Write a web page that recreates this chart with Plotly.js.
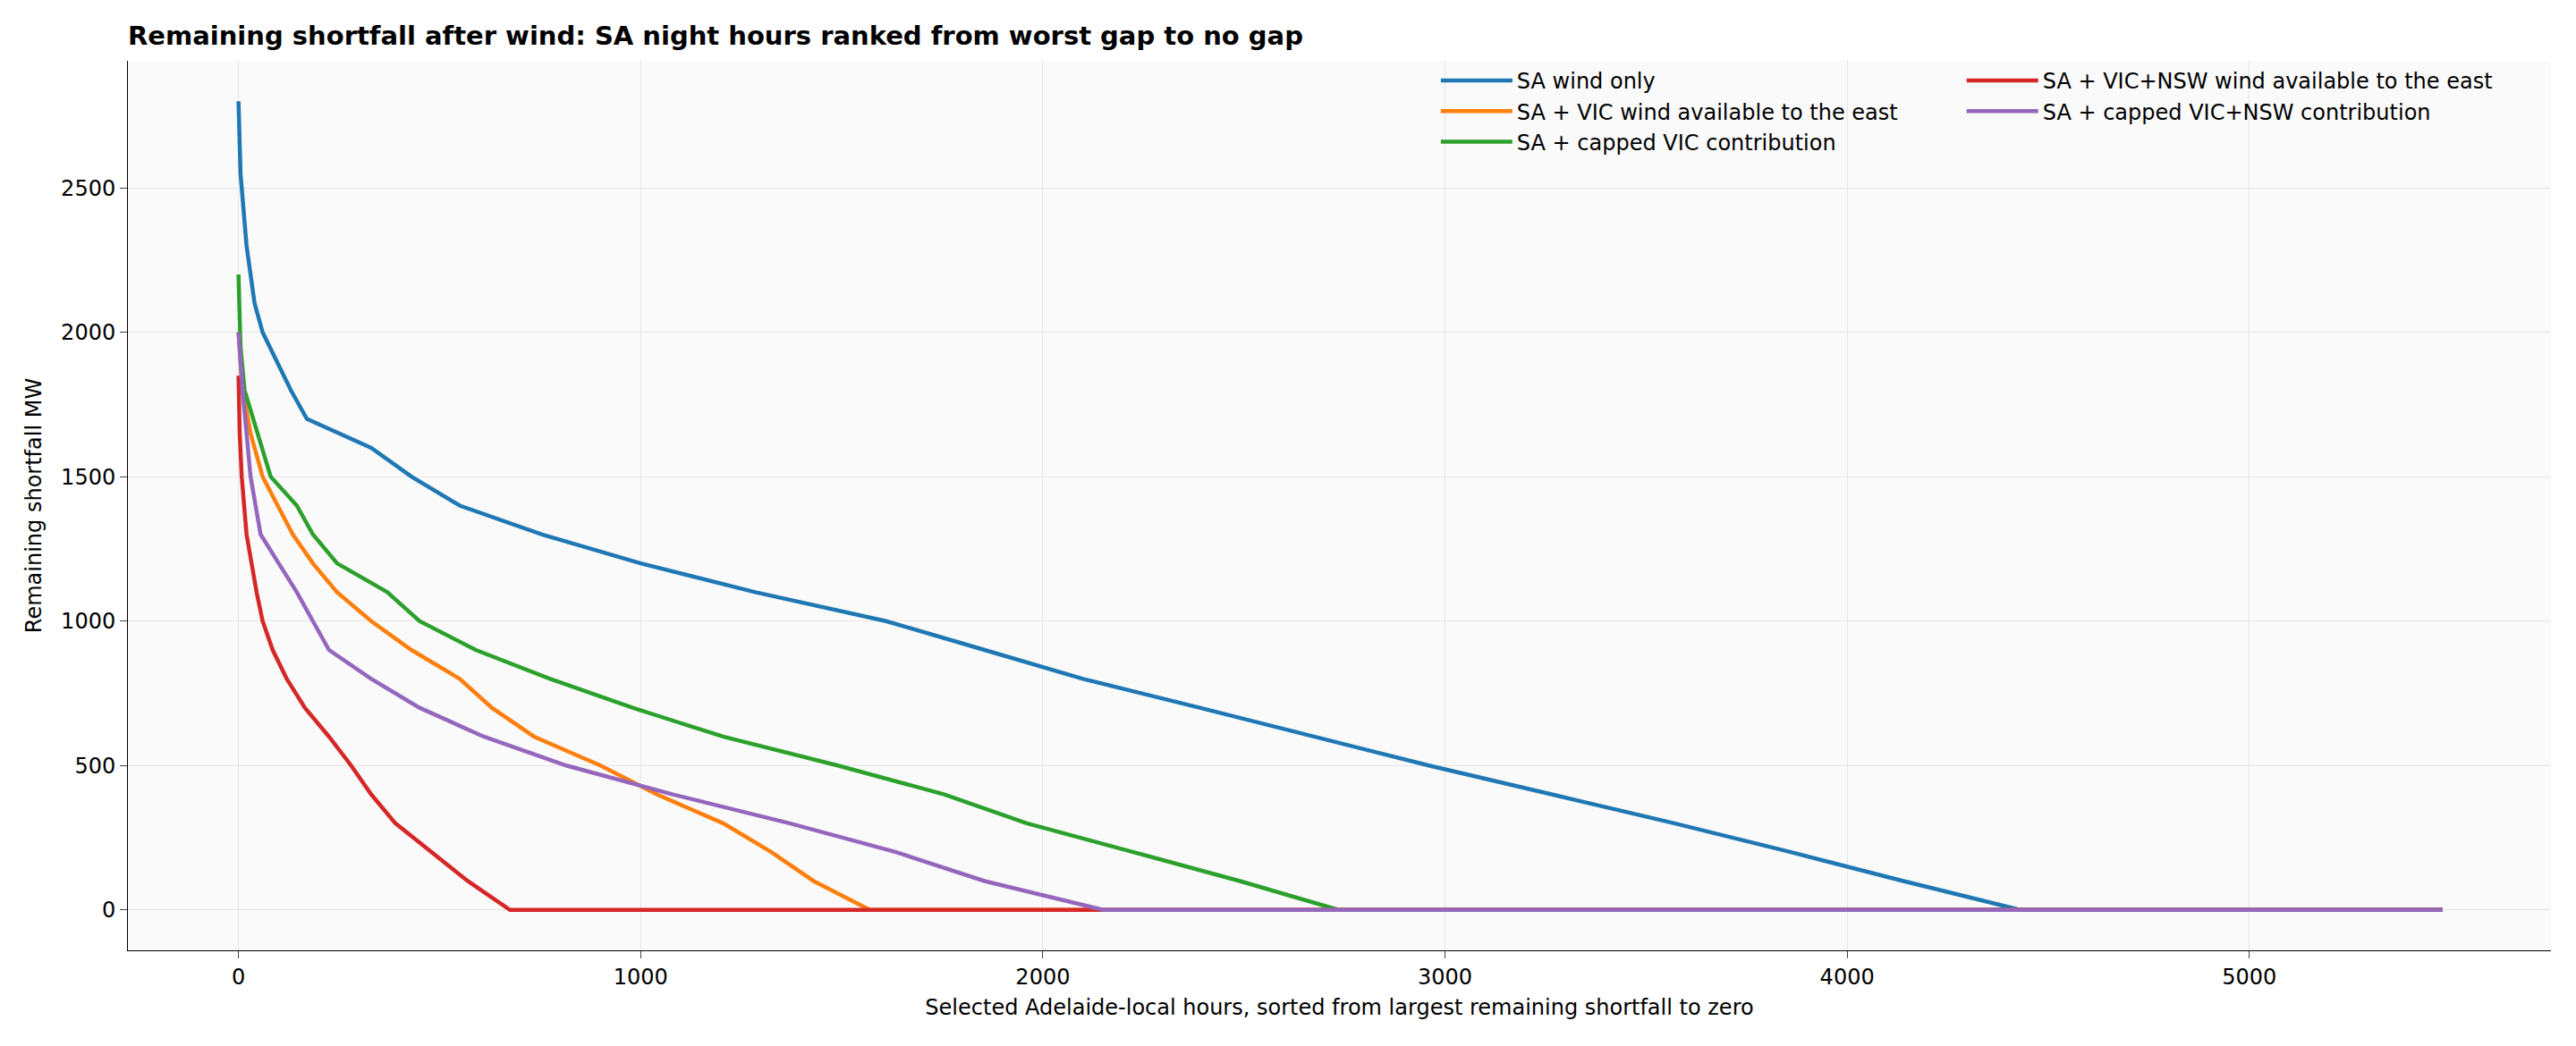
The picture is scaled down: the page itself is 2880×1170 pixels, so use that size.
<!DOCTYPE html>
<html><head><meta charset="utf-8">
<script src="https://cdn.plot.ly/plotly-3.0.1.min.js"></script>
<style>body{margin:0}</style></head>
<body><div id="chart" style="width:2880px;height:1170px"></div>
<script>
// curves: hour rank vs remaining shortfall MW
var saX = [0, 5, 20, 40, 60, 130, 170, 330, 430, 550, 755, 1000, 1285, 1610, 1855, 2100, 2390, 2670, 2960, 3265, 3570, 3860, 4140, 4430, 5480];
var saY = [2800, 2550, 2300, 2100, 2000, 1800, 1700, 1600, 1500, 1400, 1300, 1200, 1100, 1000, 900, 800, 700, 600, 500, 400, 300, 200, 100, 0, 0];
var vicX = [0, 10, 30, 60, 135, 185, 245, 330, 430, 550, 630, 735, 900, 1040, 1205, 1325, 1430, 1570, 5480];
var vicY = [2000, 1800, 1650, 1500, 1300, 1200, 1100, 1000, 900, 800, 700, 600, 500, 400, 300, 200, 100, 0, 0];
var vicCapX = [0, 5, 15, 60, 80, 145, 185, 245, 370, 450, 590, 775, 980, 1205, 1490, 1755, 1960, 2225, 2490, 2735, 5480];
var vicCapY = [2200, 1950, 1800, 1600, 1500, 1400, 1300, 1200, 1100, 1000, 900, 800, 700, 600, 500, 400, 300, 200, 100, 0, 0];
var nswX = [0, 3, 8, 20, 45, 60, 85, 120, 165, 225, 280, 330, 390, 480, 570, 675, 5480];
var nswY = [1850, 1650, 1500, 1300, 1100, 1000, 900, 800, 700, 600, 500, 400, 300, 200, 100, 0, 0];
var nswCapX = [0, 10, 30, 55, 100, 145, 185, 225, 330, 450, 610, 815, 1080, 1370, 1635, 1855, 2150, 5480];
var nswCapY = [2000, 1800, 1500, 1300, 1200, 1100, 1000, 900, 800, 700, 600, 500, 400, 300, 200, 100, 0, 0];

function line(x, y, name, color, legend) {
  return {x: x, y: y, name: name, type: 'scatter', mode: 'lines',
          line: {color: color, width: 4.5}, legend: legend};
}

var data = [
  line(saX, saY, 'SA wind only', '#1f77b4', 'legend'),
  line(vicX, vicY, 'SA + VIC wind available to the east', '#ff7f0e', 'legend'),
  line(vicCapX, vicCapY, 'SA + capped VIC contribution', '#2ca02c', 'legend'),
  line(nswX, nswY, 'SA + VIC+NSW wind available to the east', '#d62728', 'legend2'),
  line(nswCapX, nswCapY, 'SA + capped VIC+NSW contribution', '#9467bd', 'legend2')
];

var legendStyle = {y: 1, yanchor: 'top', xanchor: 'left', bgcolor: 'rgba(0,0,0,0)',
                   font: {size: 24}, itemwidth: 80, tracegroupgap: 0};

var layout = {
  font: {family: 'DejaVu Sans', size: 24, color: '#000'},
  paper_bgcolor: '#fff', plot_bgcolor: '#fafafa',
  margin: {l: 143, r: 28, t: 68, b: 107},
  title: {text: '<b>Remaining shortfall after wind: SA night hours ranked from worst gap to no gap</b>',
          x: 143/2880, xanchor: 'left', y: 1 - 40/1170, yanchor: 'middle', font: {size: 29}},
  xaxis: {range: [-275, 5750], tickvals: [0, 1000, 2000, 3000, 4000, 5000],
          showgrid: true, gridcolor: '#e6e6e6', zeroline: false, showline: true, linecolor: '#000',
          ticks: 'outside', ticklen: 8,
          title: {text: 'Selected Adelaide-local hours, sorted from largest remaining shortfall to zero', font: {size: 24}, standoff: 12}},
  yaxis: {range: [-140, 2940], tickvals: [0, 500, 1000, 1500, 2000, 2500],
          showgrid: true, gridcolor: '#e6e6e6', zeroline: false, showline: true, linecolor: '#000',
          ticks: 'outside', ticklen: 8,
          title: {text: 'Remaining shortfall MW', font: {size: 24}, standoff: 14}},
  legend: Object.assign({x: 0.54}, legendStyle),
  legend2: Object.assign({x: 0.757}, legendStyle)
};

Plotly.newPlot('chart', data, layout, {displayModeBar: false});
</script></body></html>
